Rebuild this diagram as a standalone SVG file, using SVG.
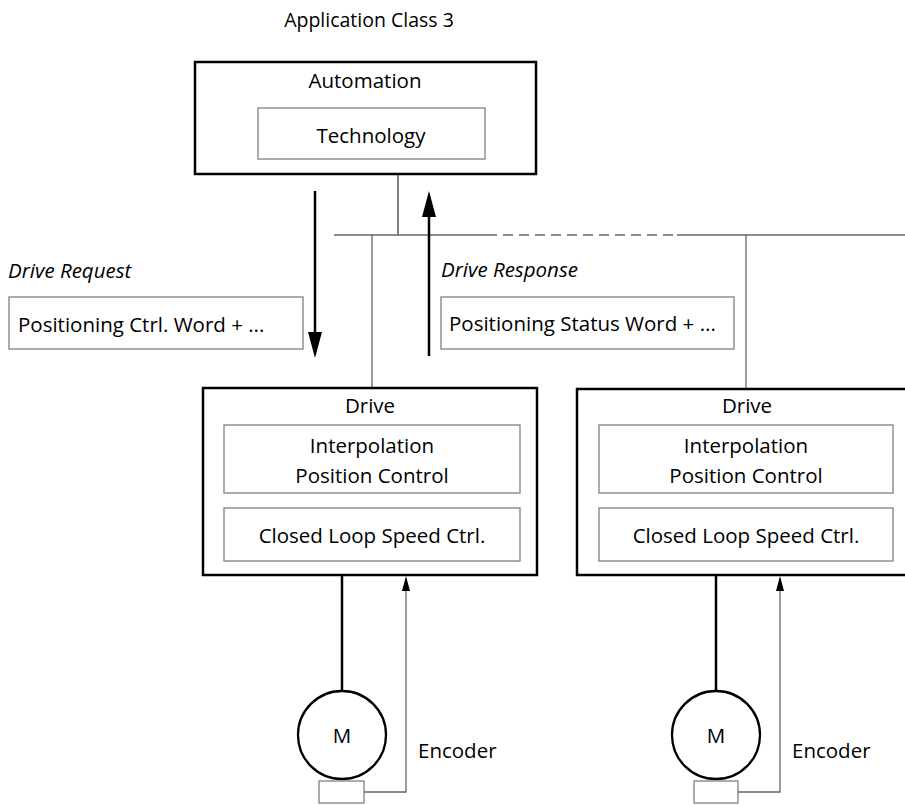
<svg xmlns="http://www.w3.org/2000/svg" width="905" height="805" viewBox="0 0 905 805">
<style>
text{font-family:"Open Sans","Noto Sans",sans-serif;font-size:20.5px;fill:#000}
.c{text-anchor:middle}
.i{font-style:italic}
.outer{fill:#fff;stroke:#000;stroke-width:2.5}
.inner{fill:#fff;stroke:#808080;stroke-width:1.3}
.thin{stroke:#000;stroke-width:1;fill:none}
.gray{stroke:#666;stroke-width:1.3;fill:none}
.thick{stroke:#000;stroke-width:2.5;fill:none}
</style>
<defs>
<marker id="bigHead" markerUnits="userSpaceOnUse" markerWidth="26" markerHeight="14" refX="0" refY="7" orient="auto" viewBox="0 0 26 14"><path d="M0,0 L26,7 L0,14 z" fill="#000"/></marker>
<marker id="smallHead" markerUnits="userSpaceOnUse" markerWidth="15" markerHeight="8" refX="0" refY="4" orient="auto" viewBox="0 0 15 8"><path d="M0,0 L15,4 L0,8 z" fill="#000"/></marker>
</defs>
<text class="c" x="369" y="27" style="font-size:19.5px">Application Class 3</text>
<g id="connectors">
<line class="thin" x1="398" y1="174" x2="398" y2="235"/>
<line class="gray" x1="334" y1="235" x2="487" y2="235"/>
<line class="gray" x1="487" y1="235" x2="677" y2="235" stroke-dasharray="10,6"/>
<line class="gray" x1="677" y1="235" x2="905" y2="235"/>
<line class="gray" x1="372" y1="235" x2="372" y2="388"/>
<line class="gray" x1="746" y1="235" x2="746" y2="389"/>
<line class="thick" x1="315" y1="191" x2="315" y2="332" marker-end="url(#bigHead)"/>
<line class="thick" x1="429" y1="356" x2="429" y2="217" marker-end="url(#bigHead)"/>
<line class="thick" x1="342" y1="575" x2="342" y2="690"/>
<polyline class="gray" points="364,792 406,792 406,591" marker-end="url(#smallHead)"/>
<line class="thick" x1="716" y1="575" x2="716" y2="690"/>
<polyline class="gray" points="738,792 780,792 780,591" marker-end="url(#smallHead)"/>
</g>
<g id="automation">
<rect class="outer" x="195" y="62" width="341" height="112"/>
<text class="c" x="365" y="88">Automation</text>
</g>
<g id="technology">
<rect class="inner" x="258" y="108" width="227" height="51"/>
<text class="c" x="371" y="143">Technology</text>
</g>
<g id="drive-request">
<text class="i" x="8" y="278">Drive Request</text>
<rect class="inner" x="9" y="297" width="294" height="52"/>
<text x="18" y="332">Positioning Ctrl. Word + ...</text>
</g>
<g id="drive-response">
<text class="i" x="441" y="277">Drive Response</text>
<rect class="inner" x="441" y="297" width="293" height="52"/>
<text x="449" y="331">Positioning Status Word + ...</text>
</g>
<g id="drive1">
<rect class="outer" x="203" y="388" width="334" height="187"/>
<text class="c" x="370" y="413">Drive</text>
<rect class="inner" x="224" y="425" width="296" height="68"/>
<text class="c" x="372" y="453">Interpolation</text>
<text class="c" x="372" y="483">Position Control</text>
<rect class="inner" x="224" y="508" width="296" height="53"/>
<text class="c" x="372" y="543">Closed Loop Speed Ctrl.</text>
</g>
<g id="motor1">
<circle cx="342" cy="735" r="44" fill="#fff" stroke="#000" stroke-width="2.3"/>
<text class="c" x="342" y="743">M</text>
<rect class="inner" x="319" y="781" width="45" height="22"/>
<text x="418" y="758">Encoder</text>
</g>
<g id="drive2">
<rect class="outer" x="577" y="389" width="334" height="186"/>
<text class="c" x="747" y="413">Drive</text>
<rect class="inner" x="599" y="425" width="294" height="68"/>
<text class="c" x="746" y="453">Interpolation</text>
<text class="c" x="746" y="483">Position Control</text>
<rect class="inner" x="599" y="508" width="294" height="53"/>
<text class="c" x="746" y="543">Closed Loop Speed Ctrl.</text>
</g>
<g id="motor2">
<circle cx="716" cy="735" r="44" fill="#fff" stroke="#000" stroke-width="2.3"/>
<text class="c" x="716" y="743">M</text>
<rect class="inner" x="694" y="781" width="44" height="22"/>
<text x="792" y="758">Encoder</text>
</g>
</svg>
